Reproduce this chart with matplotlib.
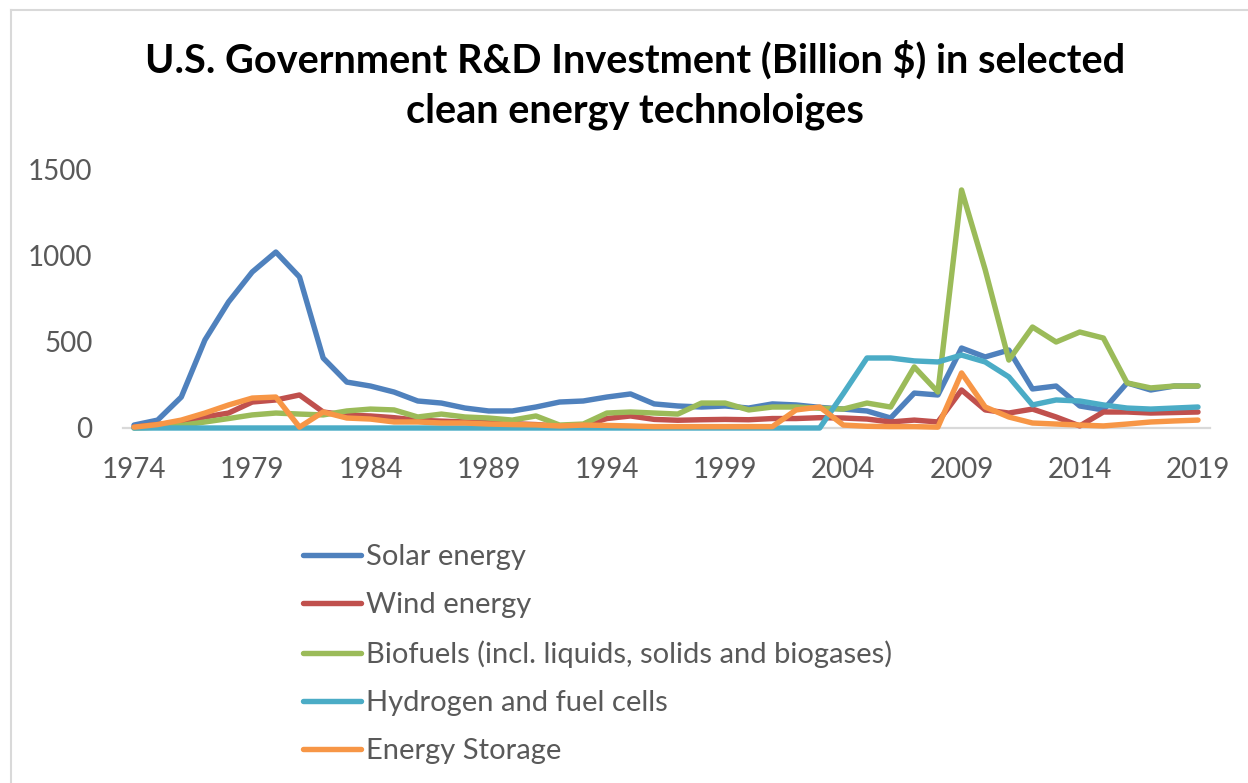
import numpy as np
import matplotlib.pyplot as plt
from matplotlib.lines import Line2D

years = np.arange(1974, 2020)

solar = [17, 46, 180, 512, 733, 907, 1023, 878, 407, 267,
         244, 209, 157, 145, 116, 99, 99, 122, 151, 157,
         180, 198, 140, 128, 122, 128, 116, 140, 134, 120,
         110, 99, 58, 203, 192, 465, 413, 453, 227, 244,
         128, 105, 262, 221, 244, 244]
wind = [5, 20, 35, 64, 87, 151, 163, 192, 93, 75,
        70, 60, 45, 40, 35, 30, 25, 20, 10, 15,
        55, 70, 50, 45, 48, 50, 48, 55, 55, 60,
        58, 52, 35, 46, 35, 221, 105, 87, 110, 64,
        12, 93, 93, 87, 90, 93]
biofuels = [0, 5, 15, 35, 55, 76, 87, 81, 76, 99,
            110, 105, 64, 81, 64, 58, 46, 70, 17, 23,
            87, 93, 87, 81, 145, 145, 105, 122, 122, 115,
            110, 145, 122, 355, 209, 1384, 920, 395, 587, 500,
            558, 523, 262, 233, 244, 244]
hydrogen = [0] * 30 + [200, 407, 407, 390, 384, 424, 384, 297, 134, 163,
                       157, 134, 116, 110, 116, 122]
storage = [5, 20, 46, 87, 134, 174, 180, 5, 93, 58,
           52, 35, 35, 29, 29, 23, 20, 18, 12, 17,
           15, 12, 8, 8, 8, 8, 8, 8, 105, 122,
           17, 10, 8, 8, 5, 320, 122, 64, 29, 23,
           17, 12, 23, 35, 41, 46]

labels = ["Solar energy", "Wind energy",
          "Biofuels (incl. liquids, solids and biogases)",
          "Hydrogen and fuel cells", "Energy Storage"]
colors = ["#4F81BD", "#C0504D", "#9BBB59", "#4BACC6", "#F79646"]
series = [solar, wind, biofuels, hydrogen, storage]

plt.rcParams['font.family'] = ['Lato', 'DejaVu Sans']
W, H = 1248, 783
fig = plt.figure(figsize=(W / 100, H / 100), dpi=100)

# plot area in pixel terms
left, right, top, bottom = 123, 1210, 170, 428
ax = fig.add_axes([left / W, 1 - bottom / H, (right - left) / W, (bottom - top) / H])

for vals, lab, col in zip(series, labels, colors):
    ax.plot(years, vals, color=col, lw=3.9, label=lab, clip_on=False,
            solid_capstyle='round', solid_joinstyle='round')

ax.set_xlim(1974 - 11 / 23.64, 2019 + 12 / 23.64)
ax.set_ylim(0, 1500)
ax.set_xticks(np.arange(1974, 2020, 5))
ax.set_yticks([0, 500, 1000, 1500])
ax.tick_params(length=0, labelsize=20, colors="#595959")
ax.tick_params(axis='x', pad=21)
ax.tick_params(axis='y', pad=22)
for s in ['top', 'right', 'left']:
    ax.spines[s].set_visible(False)
ax.spines['bottom'].set_color("#D9D9D9")
ax.spines['bottom'].set_linewidth(1.6)
ax.spines['bottom'].set_zorder(0)

fig.text(635 / W, 1 - 60 / H, "U.S. Government R&D Investment (Billion $) in selected",
         ha='center', va='center', fontsize=28.5, fontweight='bold', color='black')
fig.text(635 / W, 1 - 111 / H, "clean energy technoloiges",
         ha='center', va='center', fontsize=28.5, fontweight='bold', color='black')

leg = ax.legend(loc='upper left', bbox_to_anchor=(303 / W, 1 - 544 / H),
                bbox_transform=fig.transFigure, frameon=False, fontsize=21,
                handlelength=2.0, handletextpad=0.15, labelspacing=0.76,
                borderpad=0, borderaxespad=0)
for t in leg.get_texts():
    t.set_color("#595959")

# chart frame
fig.add_artist(Line2D([11 / W, 1.01], [1 - 10 / H] * 2, color="#D9D9D9", lw=1.5))
fig.add_artist(Line2D([11 / W] * 2, [-0.01, 1 - 10 / H], color="#D9D9D9", lw=1.5))

fig.savefig("out.png", dpi=100)
